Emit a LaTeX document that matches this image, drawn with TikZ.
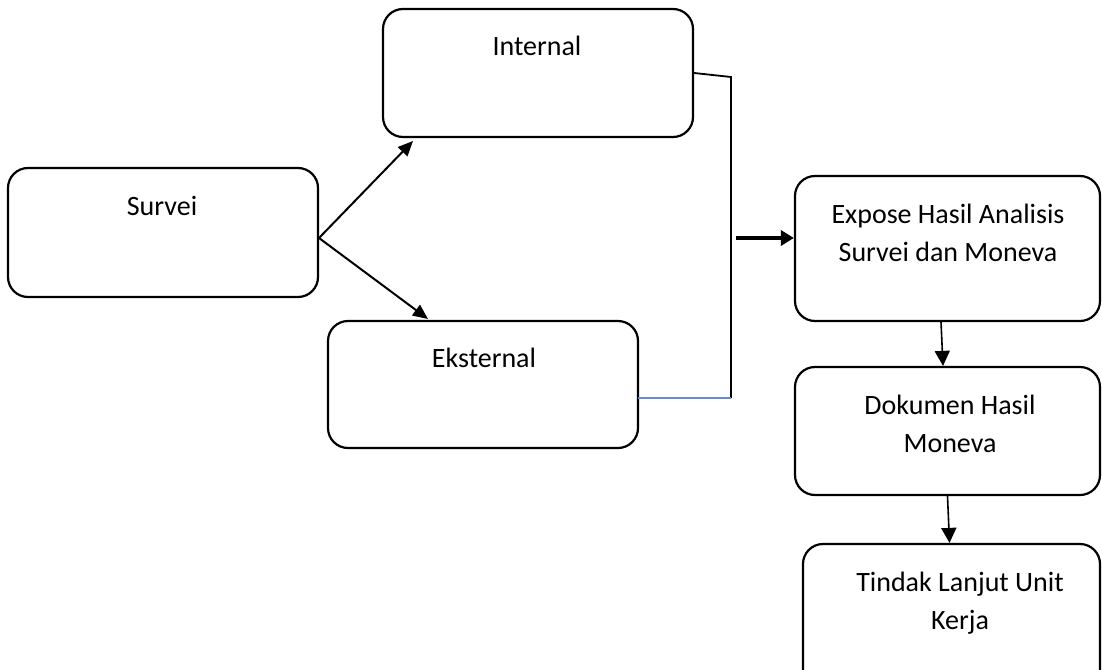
\documentclass[tikz,border=0pt]{standalone}
\usepackage{fontspec}
\setmainfont{Carlito}
\usetikzlibrary{arrows.meta,calc}
\definecolor{lineblue}{RGB}{100,140,210}
\tikzset{
  box/.style={draw=black, line width=2.2pt, rounded corners=20pt, inner sep=0pt},
  lbl/.style={font=\fontsize{28}{38}\selectfont, align=center, inner sep=0pt, anchor=base},
  arr/.style={draw=black, line width=2pt, -{Triangle[length=15pt,width=13pt]}},
  thinarr/.style={draw=black, line width=1.6pt, -{Triangle[length=15pt,width=15pt]}},
  thickarr/.style={draw=black, line width=3.8pt, -{Triangle[length=13pt,width=15pt]}},
  conn/.style={draw=black, line width=1.8pt},
}
\begin{document}
\begin{tikzpicture}[x=1pt,y=-1pt]
\useasboundingbox (0,0) rectangle (1102,669);
% boxes
\node[box, minimum width=310pt, minimum height=129pt] (survei) at (163,232.5) {};
\node[box, minimum width=310pt, minimum height=128pt] (internal) at (538,73) {};
\node[box, minimum width=310pt, minimum height=127pt] (eksternal) at (483,384.5) {};
\node[box, minimum width=305pt, minimum height=145pt] (expose) at (947.5,248.5) {};
\node[box, minimum width=305pt, minimum height=128pt] (dokumen) at (947.5,431) {};
\node[box, minimum width=297pt, minimum height=146pt] (tindak) at (951.5,617) {};
% labels (base = baseline of last line)
\node[lbl] (tsurvei) at (162,215) {Survei};
\node[lbl] (tinternal) at (537,56) {Internal};
\node[lbl] (teksternal) at (484,367) {Eksternal};
\node[lbl] (texpose) at (948,261) {Expose Hasil Analisis\\Survei dan Moneva};
\node[lbl] (tdokumen) at (950,452) {Dokumen Hasil\\Moneva};
\node[lbl] (ttindak) at (960,629) {Tindak Lanjut Unit\\Kerja};
% connector points
\coordinate (fork) at (319,238);
\coordinate (inA) at (413,141);
\coordinate (exA) at (428,319);
\coordinate (j1) at (731,77);
\coordinate (j2) at (731,398);
\coordinate (e1) at (638,398);
\coordinate (m) at (736,238);
% connectors
\draw[arr] (fork) -- (inA);
\draw[arr] (fork) -- (exA);
\draw[conn] (internal.east) -- (j1) -- (j2);
\draw[lineblue, line width=1.6pt] (j2) -- (e1);
\draw[thickarr] (m) -- (expose.west |- m);
\draw[thinarr] ($(expose.south)+(-6.5,0)$) -- ($(dokumen.north)+(-4.5,0)$);
\draw[thinarr] (dokumen.south) -- ($(tindak.north)+(-2,0)$);
\end{tikzpicture}
\end{document}
